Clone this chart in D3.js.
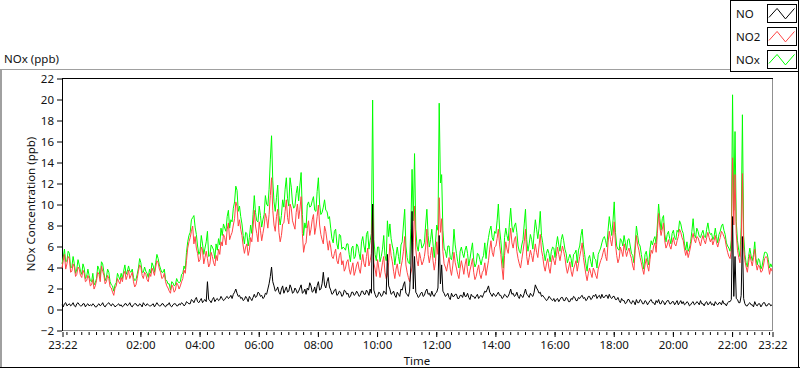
<!DOCTYPE html>
<html>
<head>
<meta charset="utf-8">
<title>NOx (ppb)</title>
<style>
body { margin: 0; background: #fff; }
svg text { font-family: "Segoe UI", "Noto Sans", sans-serif; font-size: 11.5px; fill: #111; }
</style>
</head>
<body>
<div id="chart"></div>
<script src="https://cdnjs.cloudflare.com/ajax/libs/d3/7.8.5/d3.min.js"></script>
<script>
// readings every 2.5 minutes, starting 23:22 (one row per hour)
var startTime = '2000-01-01T23:22:00';
var stepMinutes = 2.5;

var no2 = [
  3.9, 4.6, 5.2, 3.8, 4.3, 5.0, 4.8, 3.5, 3.6, 4.3, 4.0, 3.1, 3.3, 4.0, 3.8, 3.2, 3.0, 3.7, 3.4, 2.6, 2.7, 3.2, 2.9, 2.2,
  2.3, 2.8, 1.9, 2.2, 2.7, 3.5, 3.3, 2.6, 4.1, 3.6, 3.2, 2.4, 2.6, 3.2, 2.9, 2.1, 2.0, 1.6, 1.3, 2.0, 2.2, 2.9, 2.6, 2.4,
  3.0, 2.6, 3.3, 3.6, 2.8, 3.2, 3.7, 2.9, 3.2, 3.5, 2.6, 2.1, 2.3, 2.9, 3.6, 4.2, 4.0, 3.2, 2.9, 3.5, 3.3, 2.8, 2.6, 3.4,
  3.1, 3.9, 3.6, 3.2, 4.0, 4.6, 4.4, 3.8, 3.5, 2.9, 3.0, 3.4, 2.6, 2.2, 2.0, 1.7, 1.5, 2.3, 2.1, 1.6, 1.8, 2.5, 2.3, 1.9,
  2.2, 2.6, 2.9, 3.7, 3.4, 4.6, 5.8, 6.4, 6.8, 7.4, 7.9, 6.2, 6.9, 5.8, 5.3, 4.5, 4.7, 5.9, 5.6, 4.3, 4.9, 5.5, 4.8, 4.0,
  4.3, 5.4, 5.0, 4.4, 4.1, 5.1, 4.6, 5.7, 5.2, 6.4, 6.0, 7.1, 6.8, 6.1, 7.6, 8.2, 6.6, 7.0, 7.3, 8.0, 8.6, 10.2, 9.8, 7.9,
  8.5, 7.6, 7.0, 6.0, 5.3, 5.9, 6.2, 5.1, 5.6, 6.8, 6.4, 7.7, 9.4, 7.9, 7.2, 6.4, 8.3, 7.5, 6.5, 7.2, 7.9, 9.1, 8.6, 7.7,
  9.0, 10.8, 12.5, 9.4, 8.0, 7.4, 8.8, 9.5, 7.3, 6.4, 7.0, 8.1, 8.2, 9.3, 10.4, 8.7, 8.1, 10.0, 9.6, 8.4, 8.0, 7.6, 9.2, 10.0,
  8.6, 9.5, 10.7, 7.2, 5.4, 6.1, 6.3, 7.7, 8.4, 7.0, 7.6, 8.5, 9.0, 7.1, 7.8, 8.8, 9.9, 8.0, 7.1, 6.6, 6.2, 7.9, 7.4, 6.5,
  5.6, 6.5, 5.9, 5.0, 4.8, 5.3, 5.7, 4.6, 4.3, 5.1, 5.4, 4.2, 4.6, 3.6, 3.9, 4.5, 4.7, 3.8, 3.3, 3.9, 4.4, 3.2, 3.6, 4.2,
  4.5, 3.8, 3.4, 4.4, 5.2, 4.3, 4.0, 5.0, 5.8, 4.1, 4.6, 5.3, 9.9, 4.4, 3.8, 3.1, 4.7, 3.9, 3.0, 3.6, 4.4, 5.0, 3.5, 2.9,
  3.2, 4.4, 6.2, 5.1, 4.5, 3.6, 2.9, 3.8, 4.3, 3.4, 3.1, 4.0, 4.6, 5.5, 6.9, 4.2, 3.5, 3.0, 2.6, 3.4, 4.0, 6.3, 9.8, 5.7,
  4.6, 4.1, 5.4, 4.8, 4.2, 4.5, 5.0, 5.9, 7.6, 5.2, 4.4, 5.1, 5.9, 4.6, 3.7, 4.5, 6.4, 5.2, 10.6, 7.3, 8.6, 5.5, 4.3, 4.0,
  3.6, 4.3, 4.9, 3.8, 3.2, 4.1, 5.4, 4.4, 3.9, 3.3, 2.9, 3.9, 4.6, 4.0, 3.3, 4.2, 4.8, 3.6, 3.0, 3.7, 4.2, 4.8, 3.5, 2.8,
  3.1, 3.7, 4.2, 3.3, 2.9, 3.5, 3.7, 4.4, 3.2, 3.9, 4.6, 5.7, 6.5, 5.4, 5.0, 5.9, 6.0, 6.7, 7.6, 6.1, 5.2, 3.9, 2.8, 5.1,
  6.4, 5.7, 5.3, 6.5, 7.7, 6.3, 5.8, 6.6, 6.9, 5.5, 4.8, 4.3, 3.9, 4.7, 5.5, 6.4, 7.6, 5.0, 4.2, 4.9, 5.6, 5.1, 4.5, 5.4,
  6.2, 5.4, 4.9, 6.0, 7.1, 5.6, 5.0, 4.1, 3.6, 4.3, 4.8, 3.9, 3.4, 4.4, 5.1, 4.6, 4.2, 5.0, 5.9, 5.2, 4.6, 5.3, 6.0, 5.5,
  4.9, 4.0, 3.4, 3.9, 4.5, 3.6, 3.1, 3.8, 4.2, 4.6, 3.6, 4.3, 5.0, 5.6, 6.3, 4.9, 4.1, 3.3, 2.7, 3.4, 3.9, 3.4, 3.0, 3.9,
  3.6, 3.2, 2.9, 3.8, 4.2, 4.6, 4.9, 5.4, 5.8, 5.0, 4.6, 6.3, 7.4, 6.6, 6.0, 7.0, 8.3, 6.2, 5.1, 4.4, 4.8, 5.9, 5.5, 5.0,
  6.2, 5.6, 5.0, 5.5, 5.8, 5.2, 4.8, 4.1, 3.7, 5.6, 7.0, 6.1, 5.6, 4.9, 4.4, 3.8, 3.3, 4.2, 4.8, 4.1, 3.6, 4.7, 5.6, 5.3,
  6.0, 6.3, 5.4, 7.2, 9.1, 7.8, 7.0, 7.6, 8.2, 6.5, 5.8, 6.1, 6.6, 6.0, 5.7, 6.3, 6.8, 6.2, 6.0, 6.5, 6.9, 7.6, 7.3, 6.8,
  6.5, 5.7, 5.1, 5.6, 4.9, 5.4, 6.0, 6.7, 7.2, 6.6, 6.3, 6.9, 6.8, 6.4, 6.0, 6.6, 7.0, 6.5, 6.2, 6.8, 7.3, 6.8, 6.4, 6.7,
  6.1, 6.5, 7.0, 6.3, 5.9, 6.4, 6.8, 7.4, 7.2, 6.9, 6.6, 5.9, 5.4, 5.0, 4.8, 5.6, 14.4, 8.0, 12.8, 7.2, 5.6, 4.9, 4.4, 6.3,
  12.9, 5.8, 4.6, 4.0, 3.5, 4.4, 5.2, 4.6, 4.1, 4.9, 5.7, 4.3, 3.7, 4.2, 4.0, 3.5, 3.6, 4.1, 4.8, 5.0, 4.9, 4.1, 3.3, 3.9,
  3.6
];

var no = [
  0.4, 0.2, 0.5, 0.6, 0.3, 0.4, 0.5, 0.3, 0.4, 0.6, 0.3, 0.2, 0.5, 0.6, 0.4, 0.3, 0.3, 0.5, 0.5, 0.2, 0.4, 0.5, 0.3, 0.4,
  0.3, 0.5, 0.4, 0.2, 0.2, 0.4, 0.5, 0.3, 0.4, 0.6, 0.3, 0.2, 0.4, 0.5, 0.6, 0.4, 0.3, 0.5, 0.4, 0.2, 0.3, 0.4, 0.5, 0.3,
  0.4, 0.2, 0.3, 0.5, 0.5, 0.3, 0.4, 0.6, 0.3, 0.2, 0.4, 0.5, 0.5, 0.3, 0.3, 0.5, 0.4, 0.2, 0.6, 0.4, 0.3, 0.5, 0.4, 0.3,
  0.3, 0.4, 0.5, 0.2, 0.4, 0.6, 0.4, 0.3, 0.3, 0.5, 0.5, 0.3, 0.2, 0.4, 0.4, 0.6, 0.3, 0.2, 0.4, 0.5, 0.5, 0.3, 0.3, 0.5,
  0.4, 0.6, 0.5, 0.3, 0.4, 0.7, 0.6, 0.5, 0.5, 0.9, 0.8, 0.6, 0.9, 1.1, 0.7, 0.6, 0.8, 1.0, 0.6, 0.8, 0.9, 0.7, 2.6, 0.9,
  0.8, 0.6, 0.9, 1.1, 0.7, 0.9, 1.0, 0.8, 0.9, 1.2, 1.0, 0.8, 0.9, 1.1, 1.2, 1.0, 1.1, 1.3, 1.0, 1.4, 1.6, 1.9, 1.5, 1.2,
  1.3, 1.0, 1.1, 0.8, 0.9, 1.2, 1.0, 0.7, 1.2, 1.0, 0.8, 1.1, 1.4, 1.1, 1.2, 1.6, 1.5, 1.2, 1.3, 1.0, 1.1, 1.5, 1.4, 1.9,
  2.4, 3.1, 4.0, 2.6, 2.2, 1.7, 1.8, 2.1, 1.6, 1.4, 1.9, 2.2, 1.5, 1.8, 2.1, 1.6, 1.7, 2.3, 2.0, 1.5, 1.6, 2.0, 1.8, 1.5,
  1.7, 2.0, 2.3, 1.5, 1.6, 1.9, 1.4, 2.0, 1.8, 2.5, 2.2, 1.6, 1.7, 2.1, 1.5, 2.2, 2.6, 1.8, 1.9, 2.4, 3.5, 2.3, 2.0, 2.6,
  3.0, 2.1, 1.8, 1.4, 1.5, 1.8, 1.9, 1.3, 1.4, 1.7, 1.6, 1.2, 1.3, 1.8, 1.7, 1.4, 1.5, 1.1, 1.2, 1.6, 1.6, 1.3, 1.4, 1.7,
  1.5, 1.2, 1.3, 1.7, 1.7, 1.4, 1.4, 1.8, 1.6, 1.3, 1.9, 1.5, 10.0, 1.8, 1.4, 1.1, 1.2, 1.6, 1.5, 1.2, 1.3, 1.7, 1.6, 1.4,
  5.2, 2.2, 1.9, 1.4, 1.5, 1.7, 1.3, 1.1, 1.6, 1.4, 1.2, 1.9, 1.8, 2.3, 2.6, 1.5, 1.4, 1.2, 1.7, 4.1, 9.3, 1.9, 5.0, 1.6,
  1.4, 1.1, 1.2, 1.5, 1.6, 1.2, 1.3, 1.7, 1.9, 1.4, 1.5, 1.2, 1.7, 1.3, 1.2, 1.5, 1.6, 2.0, 7.0, 2.4, 4.2, 1.7, 1.5, 1.2,
  1.3, 1.5, 1.1, 0.9, 1.5, 1.2, 1.2, 1.4, 1.4, 1.0, 1.0, 1.3, 1.3, 1.1, 1.6, 1.2, 1.2, 1.5, 1.1, 0.9, 1.4, 1.2, 1.2, 1.0,
  1.2, 1.4, 1.0, 1.2, 1.3, 1.1, 1.4, 1.7, 1.6, 1.9, 2.2, 1.6, 1.4, 1.2, 1.5, 1.3, 1.2, 1.4, 1.6, 1.3, 1.3, 1.0, 1.1, 1.4,
  1.3, 1.1, 1.2, 1.5, 1.9, 1.4, 1.5, 1.2, 1.3, 1.6, 1.2, 1.0, 1.4, 1.2, 1.1, 1.5, 1.9, 1.4, 1.3, 1.1, 1.5, 1.3, 1.2, 1.6,
  2.3, 2.0, 1.8, 1.5, 1.6, 1.2, 1.3, 1.1, 1.0, 0.8, 0.9, 1.2, 1.1, 0.9, 0.8, 1.0, 0.7, 0.9, 1.0, 0.7, 0.9, 1.1, 1.1, 0.8,
  0.8, 1.1, 1.0, 0.7, 0.7, 1.0, 0.9, 1.2, 1.1, 0.8, 0.8, 1.1, 1.0, 1.2, 1.3, 1.0, 1.1, 0.8, 0.9, 1.2, 1.2, 0.9, 1.0, 1.3,
  1.2, 1.4, 1.0, 1.2, 1.3, 1.0, 1.4, 1.1, 1.1, 1.3, 1.3, 1.0, 1.4, 1.1, 1.0, 1.2, 1.2, 0.9, 0.9, 1.1, 0.8, 0.6, 1.0, 0.8,
  0.8, 0.5, 0.6, 0.9, 0.9, 0.6, 0.5, 0.8, 0.7, 0.4, 0.9, 0.6, 0.6, 0.9, 0.8, 0.5, 0.5, 0.8, 0.7, 0.4, 0.6, 0.8, 0.9, 0.6,
  0.6, 0.4, 0.8, 0.6, 0.9, 0.5, 0.5, 0.8, 0.7, 0.4, 0.6, 0.8, 0.8, 0.5, 0.5, 0.7, 0.7, 0.4, 0.6, 0.8, 0.4, 0.6, 0.8, 0.5,
  0.7, 0.4, 0.5, 0.7, 0.6, 0.3, 0.4, 0.6, 0.7, 0.4, 0.5, 0.7, 0.6, 0.4, 0.8, 0.5, 0.5, 0.3, 0.6, 0.7, 0.4, 0.5, 0.7, 0.4,
  0.5, 0.3, 0.7, 0.5, 0.4, 0.6, 0.6, 0.4, 0.8, 0.5, 0.5, 0.3, 0.6, 0.7, 0.7, 0.9, 8.8, 1.2, 5.0, 1.0, 0.9, 0.6, 0.6, 1.3,
  6.9, 1.0, 0.5, 0.3, 0.3, 0.5, 0.6, 0.4, 0.4, 0.2, 0.7, 0.4, 0.3, 0.5, 0.5, 0.2, 0.4, 0.6, 0.6, 0.3, 0.3, 0.5, 0.5, 0.3,
  0.4
];

var nox = [
  4.3, 4.9, 5.7, 4.5, 4.6, 5.5, 5.3, 3.9, 4.0, 5.0, 4.3, 3.4, 3.8, 4.7, 4.2, 3.6, 3.3, 4.3, 3.9, 2.9, 3.1, 3.8, 3.2, 2.7,
  2.6, 3.4, 2.3, 2.5, 2.9, 4.1, 3.8, 3.0, 4.5, 4.3, 3.5, 2.7, 3.0, 3.8, 3.5, 2.6, 2.3, 2.2, 1.7, 2.3, 2.5, 3.4, 3.1, 2.8,
  3.4, 2.9, 3.6, 4.2, 3.3, 3.6, 4.1, 3.6, 3.5, 3.8, 3.0, 2.7, 2.8, 3.3, 3.9, 4.8, 4.4, 3.5, 3.5, 4.0, 3.6, 3.4, 3.0, 3.8,
  3.4, 4.4, 4.1, 3.5, 4.4, 5.2, 4.8, 4.2, 3.8, 3.5, 3.5, 3.8, 2.8, 2.7, 2.4, 2.4, 1.8, 2.6, 2.5, 2.2, 2.3, 2.9, 2.6, 2.5,
  2.6, 3.3, 3.4, 4.1, 3.8, 5.4, 6.4, 7.0, 7.3, 8.5, 8.7, 8.9, 7.8, 7.1, 6.0, 5.2, 5.5, 7.0, 6.2, 5.2, 5.8, 6.4, 7.4, 5.0,
  5.1, 6.1, 5.9, 5.6, 4.8, 6.2, 5.6, 6.7, 6.1, 7.7, 7.0, 8.1, 7.7, 7.4, 8.8, 9.4, 7.7, 8.5, 8.3, 9.6, 10.2, 11.7, 11.3, 9.3,
  9.8, 8.8, 8.1, 7.0, 6.2, 7.3, 7.2, 6.0, 6.8, 8.0, 7.2, 9.0, 10.8, 9.2, 8.4, 8.3, 9.8, 8.9, 7.8, 8.5, 9.0, 10.8, 10.0, 9.8,
  11.4, 14.2, 16.5, 12.2, 10.2, 9.3, 10.6, 11.8, 8.9, 8.0, 8.9, 10.4, 9.7, 11.4, 12.5, 10.5, 9.8, 12.5, 11.6, 10.1, 9.6, 9.8, 11.0, 11.7,
  10.3, 11.8, 13.0, 9.0, 7.0, 8.2, 7.7, 9.9, 10.2, 9.7, 9.8, 10.3, 10.7, 9.4, 9.3, 11.2, 12.5, 10.0, 9.0, 9.2, 9.7, 10.4, 9.4, 9.3,
  8.6, 8.8, 7.7, 6.7, 6.3, 7.4, 7.6, 6.2, 5.7, 7.1, 7.0, 5.7, 5.9, 5.8, 5.6, 6.2, 6.2, 5.2, 4.5, 5.8, 6.0, 4.8, 5.0, 6.2,
  6.0, 5.3, 4.7, 6.4, 6.9, 6.0, 5.4, 7.1, 7.4, 5.7, 6.5, 7.2, 19.9, 6.6, 5.2, 4.6, 5.9, 5.9, 4.5, 5.0, 5.7, 7.0, 5.1, 4.6,
  8.4, 6.9, 8.1, 6.7, 6.0, 5.5, 4.2, 5.1, 5.9, 5.0, 4.3, 6.1, 6.4, 8.0, 9.5, 6.0, 4.9, 4.4, 4.3, 7.7, 13.3, 8.4, 14.8, 7.6,
  6.0, 5.5, 6.6, 6.6, 5.8, 6.0, 6.3, 8.0, 9.5, 7.0, 5.9, 6.6, 7.6, 6.2, 4.9, 6.3, 8.0, 7.5, 19.6, 12.0, 12.8, 7.5, 5.8, 5.5,
  4.9, 6.0, 6.0, 4.9, 4.7, 5.5, 7.6, 6.1, 5.3, 4.5, 3.9, 5.5, 5.9, 5.3, 4.9, 5.6, 6.0, 5.3, 4.1, 4.8, 5.6, 6.3, 4.7, 4.0,
  4.3, 5.3, 5.2, 4.7, 4.2, 4.8, 5.1, 6.3, 4.8, 6.0, 6.8, 7.5, 7.9, 6.8, 6.5, 7.4, 7.2, 8.4, 10.0, 7.6, 6.5, 5.1, 3.9, 6.8,
  7.7, 7.0, 6.5, 8.2, 9.6, 7.9, 7.3, 7.9, 8.2, 7.3, 6.0, 5.5, 5.3, 6.1, 6.6, 8.1, 9.5, 6.6, 5.5, 6.2, 7.1, 6.6, 5.7, 7.2,
  8.5, 7.6, 6.7, 7.7, 9.3, 7.0, 6.3, 5.4, 4.6, 5.3, 5.7, 5.3, 4.5, 5.5, 5.9, 5.8, 4.9, 6.1, 6.9, 6.1, 5.5, 6.6, 7.1, 6.5,
  5.7, 5.3, 4.4, 4.8, 5.2, 4.8, 4.0, 5.2, 5.3, 5.6, 4.4, 5.6, 6.0, 7.0, 7.6, 6.1, 5.2, 4.3, 3.6, 4.8, 5.1, 4.5, 4.0, 5.4,
  4.8, 4.7, 3.9, 5.2, 5.5, 5.8, 6.3, 6.7, 6.9, 6.5, 5.9, 7.5, 8.8, 7.9, 7.0, 8.4, 10.2, 7.3, 6.0, 5.7, 5.6, 6.7, 6.5, 6.0,
  7.0, 6.3, 5.6, 6.6, 6.7, 6.0, 5.3, 5.1, 4.4, 6.2, 7.9, 7.0, 6.2, 6.0, 5.2, 4.5, 3.8, 5.2, 5.5, 4.7, 4.2, 5.7, 6.5, 6.1,
  6.6, 6.9, 6.2, 8.0, 10.0, 8.6, 7.5, 8.6, 8.9, 7.1, 6.4, 7.1, 7.4, 6.7, 6.2, 7.2, 7.5, 6.8, 6.6, 7.5, 7.3, 8.4, 8.1, 7.5,
  7.2, 6.2, 5.6, 6.4, 5.5, 5.8, 6.4, 7.4, 8.6, 7.1, 6.8, 7.7, 7.4, 6.9, 6.8, 7.2, 7.5, 6.9, 6.8, 7.6, 8.2, 7.4, 7.1, 7.2,
  6.6, 6.9, 7.7, 6.9, 6.3, 7.1, 7.4, 7.9, 8.1, 7.5, 7.1, 6.3, 6.0, 5.8, 5.5, 6.6, 20.4, 9.4, 16.9, 8.3, 6.5, 5.6, 5.0, 7.8,
  18.5, 7.0, 5.2, 4.4, 4.0, 5.0, 5.8, 5.1, 4.6, 5.2, 6.4, 4.8, 4.2, 4.8, 4.6, 3.8, 4.1, 4.8, 5.4, 5.4, 5.3, 4.7, 3.9, 4.3,
  4.0
];

var yTicks = [-2, 0, 2, 4, 6, 8, 10, 12, 14, 16, 18, 20, 22];
var xTickLabels = ['23:22', '02:00', '04:00', '06:00', '08:00', '10:00', '12:00',
                   '14:00', '16:00', '18:00', '20:00', '22:00', '23:22'];
var seriesNames = ['NO', 'NO2', 'NOx'];
var seriesColors = { NO: '#000000', NO2: '#ff4545', NOx: '#00ff00' };

var width = 800, height = 369;
var plot = { left: 62, top: 78, right: 772, bottom: 330 };

var svg = d3.select('#chart').append('svg')
    .attr('width', width)
    .attr('height', height);

var t0 = new Date(startTime);
var t1 = d3.timeDay.offset(t0, 1);
function at(i) { return new Date(t0.getTime() + i * stepMinutes * 60000); }

// tick label -> date (labels before 23:22 fall on the next day)
var majorTicks = xTickLabels.map(function (s, i) {
    if (i === 0) return t0;
    if (i === xTickLabels.length - 1) return t1;
    var p = s.split(':');
    var d = d3.timeDay.offset(t0, 1);
    d.setHours(+p[0], +p[1], 0, 0);
    return d;
});
var minorTicks = d3.timeMinute.every(15).range(t0, t1);

var x = d3.scaleTime().domain([t0, t1]).range([plot.left, plot.right]);
var y = d3.scaleLinear().domain([-2, 22]).range([plot.bottom, plot.top]);

// outer panel frame
svg.append('line').attr('x1', 0).attr('x2', 730).attr('y1', 69.5).attr('y2', 69.5).attr('stroke', '#a0a0a0');
svg.append('line').attr('x1', 1).attr('x2', 1).attr('y1', 69).attr('y2', 368).attr('stroke', '#a0a0a0').attr('stroke-width', 2);
svg.append('line').attr('x1', 0).attr('x2', 800).attr('y1', 367.5).attr('y2', 367.5).attr('stroke', '#000');
svg.append('line').attr('x1', 798.5).attr('x2', 798.5).attr('y1', 69).attr('y2', 368).attr('stroke', '#000');

svg.append('text').attr('x', 4).attr('y', 63).text('NOx (ppb)');

// plot area border
svg.append('line').attr('x1', plot.right + 0.5).attr('x2', plot.right + 0.5).attr('y1', plot.top).attr('y2', plot.bottom + 1).attr('stroke', '#909090');
svg.append('line').attr('x1', plot.left).attr('x2', plot.right + 1).attr('y1', plot.bottom + 0.5).attr('y2', plot.bottom + 0.5).attr('stroke', '#909090');
svg.append('line').attr('x1', plot.left).attr('x2', plot.right + 1).attr('y1', plot.top + 0.5).attr('y2', plot.top + 0.5).attr('stroke', '#000');
svg.append('line').attr('x1', plot.left + 0.5).attr('x2', plot.left + 0.5).attr('y1', plot.top).attr('y2', plot.bottom + 1).attr('stroke', '#000');

// axes
var yAxis = svg.append('g')
    .attr('transform', 'translate(' + plot.left + ',0.5)')
    .call(d3.axisLeft(y).tickValues(yTicks).tickSize(5).tickPadding(3));
yAxis.select('.domain').remove();

var xMinor = svg.append('g')
    .attr('transform', 'translate(0.5,' + (plot.bottom + 2) + ')')
    .call(d3.axisBottom(x).tickValues(minorTicks).tickSize(3).tickFormat(''));
xMinor.select('.domain').remove();

var xAxis = svg.append('g')
    .attr('transform', 'translate(0.5,' + (plot.bottom + 2) + ')')
    .call(d3.axisBottom(x).tickValues(majorTicks).tickSize(5).tickPadding(4)
        .tickFormat(function (d, i) { return xTickLabels[i]; }));
xAxis.select('.domain').remove();

svg.selectAll('.tick line').attr('stroke', '#000');
svg.selectAll('.tick text').attr('fill', '#111').attr('font-size', null).attr('font-family', null);

svg.append('text')
    .attr('x', (plot.left + plot.right) / 2)
    .attr('y', 365)
    .attr('text-anchor', 'middle')
    .text('Time');

svg.append('text')
    .attr('transform', 'translate(35,' + ((plot.top + plot.bottom) / 2) + ') rotate(-90)')
    .attr('text-anchor', 'middle')
    .text('NOx Concentration (ppb)');

// series, NOx under NO2 under NO
var series = { NO: no, NO2: no2, NOx: nox };
var line = d3.line()
    .x(function (d, i) { return x(at(i)); })
    .y(function (d) { return y(d); });

['NOx', 'NO2', 'NO'].forEach(function (name) {
    svg.append('path')
        .attr('d', line(series[name]))
        .attr('fill', 'none')
        .attr('stroke', seriesColors[name])
        .attr('stroke-width', 1);
});

// legend
var legend = svg.append('g');
legend.append('rect')
    .attr('x', 730.5).attr('y', 0.5).attr('width', 68).attr('height', 71)
    .attr('fill', '#fff').attr('stroke', '#000');

var swatch = [[0.05, 0.72], [0.33, 0.22], [0.62, 0.8], [0.93, 0.22]];
seriesNames.forEach(function (name, i) {
    var base = 18 + i * 23;
    legend.append('text').attr('x', 736).attr('y', base).text(name);
    var sx = 767.5, sy = base - 13.5, sw = 29, sh = 18;
    legend.append('rect')
        .attr('x', sx).attr('y', sy).attr('width', sw).attr('height', sh)
        .attr('fill', '#fff').attr('stroke', '#000');
    legend.append('path')
        .attr('d', d3.line()(swatch.map(function (p) { return [sx + p[0] * sw, sy + p[1] * sh]; })))
        .attr('fill', 'none')
        .attr('stroke', seriesColors[name]);
});
</script>
</body>
</html>
